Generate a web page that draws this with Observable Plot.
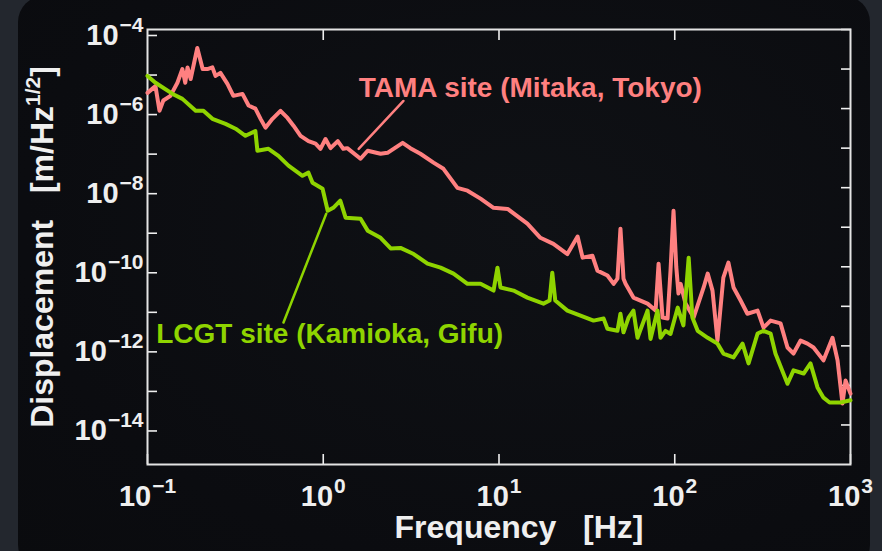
<!DOCTYPE html>
<html>
<head>
<meta charset="utf-8">
<script src="https://cdn.jsdelivr.net/npm/d3@7"></script>
<script src="https://cdn.jsdelivr.net/npm/@observablehq/plot@0.6"></script>
<style>
  html, body { margin: 0; padding: 0; width: 882px; height: 551px; overflow: hidden; background: #23272e; }
  #panel { position: absolute; left: 18px; top: -4px; width: 852px; height: 575px; border-radius: 26px;
           background: radial-gradient(ellipse at 60% 40%, #0f1115 0%, #0b0c10 70%, #0a0b0e 100%); }
  #chart { position: absolute; left: 0; top: 0; }
  svg text { white-space: pre; }
</style>
</head>
<body>
<div id="panel"></div>
<div id="chart"></div>
<script>
// ---- data (frequency [Hz], displacement [m/Hz^1/2]) ----
const tama = [
  [0.1, 2.5e-6], [0.111, 3.7e-6], [0.117, 8.8e-7], [0.123, 1.6e-6], [0.135, 2.1e-6],
  [0.148, 4.5e-6], [0.158, 1.0e-5], [0.164, 4.5e-6], [0.169, 1.1e-5], [0.176, 5.6e-6],
  [0.192, 3.4e-5], [0.206, 1.0e-5], [0.219, 1.0e-5], [0.234, 1.1e-5], [0.244, 6.7e-6],
  [0.26, 8.0e-6], [0.285, 4.2e-6], [0.308, 2.1e-6], [0.347, 2.35e-6], [0.376, 1.2e-6],
  [0.411, 1.0e-6], [0.44, 5.5e-7], [0.469, 3.3e-7], [0.514, 5.5e-7], [0.571, 8.8e-7],
  [0.626, 5.8e-7], [0.677, 3.7e-7], [0.743, 2.05e-7], [0.824, 1.5e-7], [0.904, 1.3e-7],
  [0.964, 9.6e-8], [1.03, 1.7e-7], [1.1, 1.0e-7], [1.21, 1.5e-7], [1.3, 9.6e-8],
  [1.37, 1.0e-7], [1.63, 5.4e-8], [1.79, 8.6e-8], [2.12, 7.2e-8], [2.32, 7.6e-8],
  [2.83, 1.36e-7], [3.13, 1.0e-7], [3.57, 7.2e-8], [4.24, 4.3e-8], [4.83, 3.0e-8],
  [5.8, 9.9e-9], [6.62, 8.4e-9], [7.85, 5.3e-9], [9.31, 3.1e-9], [11.2, 2.9e-9],
  [12.7, 1.9e-9], [14.5, 1.23e-9], [17.2, 5.4e-10], [20.4, 3.8e-10], [24.5, 2.1e-10],
  [28.0, 5.8e-10], [29.9, 1.7e-10], [34.0, 1.9e-10], [36.3, 8.0e-11], [41.4, 6.0e-11],
  [44.9, 3.7e-11], [47.2, 5.0e-11], [49.1, 9.2e-10], [51.1, 5.0e-11], [52.5, 3.7e-11],
  [58.2, 1.66e-11], [70, 1.17e-11], [77.8, 7.8e-12], [80.9, 1.2e-10], [85.2, 5.2e-12],
  [91, 4.9e-12], [94.6, 8.0e-11], [98.4, 2.6e-9], [102, 1.0e-10], [105, 2.1e-11],
  [108, 3.7e-11], [115, 1.2e-11], [128, 5.2e-12], [146, 3.0e-11], [154, 6.7e-11],
  [164, 2.5e-11], [175, 1.36e-12], [189, 5.3e-11], [202, 1.27e-10], [216, 3.0e-11],
  [237, 1.4e-11], [259, 6.5e-12], [296, 7.8e-12], [320, 2.9e-12], [351, 4.35e-12],
  [400, 3.7e-12], [438, 9.1e-13], [474, 6.4e-13], [520, 1.36e-12], [569, 1.14e-12],
  [616, 9.1e-13], [702, 4.3e-13], [790, 1.6e-12], [844, 4.3e-13], [900, 3.5e-14],
  [937, 1.33e-13], [1000, 6.2e-14]
];
const lcgt = [
  [0.1, 6.7e-6], [0.111, 4.5e-6], [0.139, 2.35e-6], [0.158, 1.76e-6], [0.188, 8.8e-7],
  [0.208, 8.8e-7], [0.234, 5.5e-7], [0.278, 4.1e-7], [0.317, 3.1e-7], [0.361, 2.05e-7],
  [0.411, 2.7e-7], [0.422, 8.6e-8], [0.488, 9.6e-8], [0.556, 6.4e-8], [0.634, 3.6e-8],
  [0.762, 2.0e-8], [0.824, 2.4e-8], [0.869, 1.33e-8], [0.991, 9.4e-9], [1.06, 2.6e-9],
  [1.14, 3.1e-9], [1.25, 4.7e-9], [1.34, 1.74e-9], [1.63, 1.64e-9], [1.79, 8.2e-10],
  [2.12, 5.4e-10], [2.42, 2.9e-10], [2.75, 3.0e-10], [3.27, 2.1e-10], [3.92, 1.2e-10],
  [4.65, 9.5e-11], [5.51, 6.7e-11], [6.62, 3.7e-11], [7.85, 3.7e-11], [9.31, 2.5e-11],
  [9.8, 9.5e-11], [10.2, 3.0e-11], [12.1, 2.5e-11], [14.5, 1.66e-11], [17.9, 1.17e-11],
  [19.4, 1.4e-11], [20.1, 7.1e-11], [20.9, 1.4e-11], [24.5, 7.8e-12], [29.1, 5.8e-12],
  [34.5, 4.35e-12], [39.4, 4.9e-12], [41.4, 2.7e-12], [47.2, 2.4e-12], [49.1, 6.5e-12],
  [51.1, 2.2e-12], [54.6, 5.2e-12], [58.2, 7.8e-12], [61.4, 1.6e-12], [70, 7.8e-12],
  [72.8, 1.5e-12], [79.8, 7.8e-12], [83, 1.6e-12], [88.6, 2.4e-12], [94.6, 2.0e-12],
  [104, 9.3e-12], [112, 3.3e-12], [120, 1.7e-10], [126, 5.2e-12], [135, 2.4e-12],
  [154, 1.6e-12], [175, 1.14e-12], [189, 6.4e-13], [216, 5.1e-13], [243, 1.14e-12],
  [263, 3.6e-13], [296, 2.05e-12], [320, 2.4e-12], [351, 2.05e-12], [374, 6.4e-13],
  [438, 1.1e-13], [474, 2.4e-13], [541, 2.0e-13], [592, 3.6e-13], [649, 8.9e-14],
  [702, 4.9e-14], [760, 3.7e-14], [877, 3.7e-14], [1000, 4.2e-14]
];
// annotations: label anchor point and leader line ends (data coords)
const tamaLabel = {text: "TAMA site (Mitaka, Tokyo)", f: 1.59, d: 3.3e-6};
const lcgtLabel = {text: "LCGT site (Kamioka, Gifu)", f: 0.112, d: 2.05e-12};
const tamaLeader = [[1.59, 9.6e-8], [2.86, 1.56e-6]];
const lcgtLeader = [[1.04, 2.2e-9], [0.594, 3.9e-12]];
// ticks
const xTicks = [0.1, 1, 10, 100, 1000];
const xTickExponents = ["\u22121", "0", "1", "2", "3"];
const yTicks = [1e-4, 1e-5, 1e-6, 1e-7, 1e-8, 1e-9, 1e-10, 1e-11, 1e-12, 1e-13, 1e-14];
const yTickExponents = ["\u22124", "", "\u22126", "", "\u22128", "", "\u221210", "", "\u221212", "", "\u221214"];
const xTitle = "Frequency   [Hz]";
const yTitle = "Displacement   [m/Hz";
const yTitleSup = "1/2";

const pink = "#ff8080";
const green = "#8fd400";
const white = "#efefef";
const FONT = "'Liberation Sans', Arial, sans-serif";

const chart = Plot.plot({
  width: 882, height: 551,
  marginLeft: 147, marginRight: 32, marginTop: 29, marginBottom: 87,
  style: {background: "transparent", color: white, fontFamily: FONT, fontWeight: "bold", overflow: "visible"},
  x: {type: "log", domain: [0.1, 1000]},
  y: {type: "log", domain: [1e-15, 1e-4]},
  marks: [
    Plot.axisX({anchor: "bottom", ticks: xTicks, tickSize: -10, tickPadding: 31, fontSize: 29,
                tickFormat: d => "10^" + xTickExponents[xTicks.indexOf(d)], label: null, strokeWidth: 1.6}),
    Plot.axisX({anchor: "top", ticks: xTicks.slice(1, 4), tickSize: -10, tickFormat: () => "", label: null, strokeWidth: 1.6}),
    Plot.axisY({anchor: "left", ticks: yTicks, tickSize: -10, tickPadding: 14, fontSize: 29, dy: 6,
                tickFormat: d => { const e = yTickExponents[yTicks.indexOf(d)]; return e ? "10^" + e : ""; }, label: null, strokeWidth: 1.6}),
    Plot.axisY({anchor: "right", ticks: yTicks, tickSize: -10, tickFormat: () => "", label: null, strokeWidth: 1.6}),
    Plot.frame({stroke: "#e4e4e4", strokeWidth: 2}),
    Plot.line(tama, {x: d => d[0], y: d => d[1], stroke: pink, strokeWidth: 4, strokeLinejoin: "round"}),
    Plot.line(lcgt, {x: d => d[0], y: d => d[1], stroke: green, strokeWidth: 4, strokeLinejoin: "round"}),
    Plot.line(tamaLeader, {x: d => d[0], y: d => d[1], stroke: pink, strokeWidth: 2.5}),
    Plot.line(lcgtLeader, {x: d => d[0], y: d => d[1], stroke: green, strokeWidth: 2.5}),
    Plot.text([tamaLabel], {x: "f", y: "d", text: "text", fill: pink, fontSize: 28, fontWeight: "bold", textAnchor: "start"}),
    Plot.text([lcgtLabel], {x: "f", y: "d", text: "text", fill: green, fontSize: 28, fontWeight: "bold", textAnchor: "start"}),
    Plot.text([xTitle], {text: d => d, frameAnchor: "bottom", textAnchor: "middle", dx: 20, dy: 73, fontSize: 32, fill: white, fontWeight: "bold"}),
    Plot.text([yTitle + "^" + yTitleSup + "]"], {text: d => d, frameAnchor: "left", textAnchor: "middle", dx: -105, rotate: -90, fontSize: 32, fill: white, fontWeight: "bold"})
  ]
});
document.getElementById("chart").appendChild(chart);

// render exponents as real superscripts
const NS = "http://www.w3.org/2000/svg";
function tspan(txt, attrs) {
  const s = document.createElementNS(NS, "tspan");
  s.textContent = txt;
  for (const k in attrs) s.setAttribute(k, attrs[k]);
  return s;
}
chart.querySelectorAll("text").forEach(t => {
  const s = t.textContent;
  let m = /^10\^(.+)$/.exec(s);
  if (m) {
    t.textContent = "";
    t.setAttribute("font-size", "29");
    t.appendChild(tspan("10", {}));
    t.appendChild(tspan(m[1], {dy: "-13", "font-size": "21", dx: "1"}));
    return;
  }
  m = /^(.*)\^(.+)\](.*)$/.exec(s);
  if (m) {
    t.textContent = "";
    t.appendChild(tspan(m[1], {}));
    t.appendChild(tspan(m[2], {dy: "-13", "font-size": "21"}));
    t.appendChild(tspan("]", {dy: "13"}));
  }
});
</script>
</body>
</html>
